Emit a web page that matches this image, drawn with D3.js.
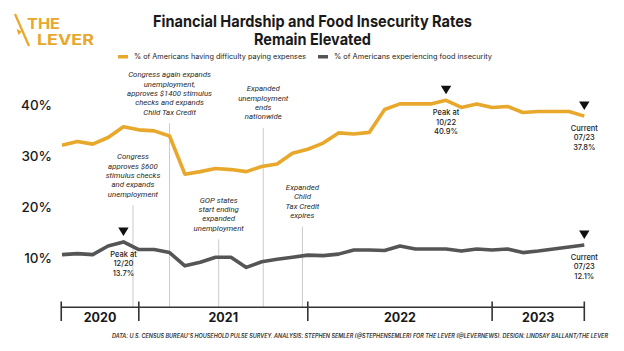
<!DOCTYPE html>
<html><head><meta charset="utf-8">
<script src="https://cdn.jsdelivr.net/npm/d3@7"></script>
<style>html,body{margin:0;padding:0;background:#fff;}svg{display:block;}</style>
</head><body><svg id="c" width="624" height="351"></svg>
<script>
// ---- data ----
const hardshipValues = [32.1, 32.8, 32.3, 33.6, 35.7, 35.1, 34.9, 33.9, 26.4, 26.9, 27.5, 27.3, 26.9, 27.9, 28.4, 30.5, 31.3, 32.5, 34.5, 34.3, 34.6, 39.1, 40.2, 40.2, 40.2, 40.9, 39.5, 40.2, 39.5, 39.7, 38.5, 38.7, 38.7, 38.7, 37.8];
const foodValues = [10.6, 10.8, 10.6, 12.3, 13.1, 11.6, 11.6, 11.0, 8.4, 9.1, 10.1, 10.1, 8.1, 9.2, 9.7, 10.1, 10.5, 10.4, 10.7, 11.5, 11.5, 11.4, 12.3, 11.7, 11.7, 11.7, 11.3, 11.7, 11.5, 11.7, 11.0, 11.3, 11.7, 12.1, 12.5];
const yTicks = [10, 20, 30, 40];
const yTickLabels = ["10%", "20%", "30%", "40%"];
const years = ["2020", "2021", "2022", "2023"];
const yearBoundaries = [-0.05, 5, 16, 28, 34]; // survey index where each year starts
const seriesNames = ["% of Americans having difficulty paying expenses", "% of Americans experiencing food insecurity"];
const events = [
  { at: 4.62, top: 20.3, lines: ["Congress", "approves $600", "stimulus checks", "and expands", "unemployment"] },
  { at: 7, top: 36.4, lines: ["Congress again expands", "unemployment,", "approves $1400 stimulus", "checks and expands", "Child Tax Credit"] },
  { at: 10.2, top: 13.6, lines: ["GOP states", "start ending", "expanded", "unemployment"] },
  { at: 13.1, top: 35.5, lines: ["Expanded", "unemployment", "ends", "nationwide"] },
  { at: 15.65, top: 16.1, lines: ["Expanded", "Child", "Tax Credit", "expires"] }
];
const callouts = [
  { series: 0, index: 25, lines: ["Peak at", "10/22", "40.9%"] },
  { series: 0, index: 34, lines: ["Current", "07/23", "37.8%"] },
  { series: 1, index: 4, lines: ["Peak at", "12/20", "13.7%"] },
  { series: 1, index: 34, lines: ["Current", "07/23", "12.1%"] }
];
const titleLines = ["Financial Hardship and Food Insecurity Rates", "Remain Elevated"];
const footer = "DATA: U.S. CENSUS BUREAU'S HOUSEHOLD PULSE SURVEY. ANALYSIS: STEPHEN SEMLER (@STEPHENSEMLER) FOR THE LEVER (@LEVERNEWS). DESIGN: LINDSAY BALLANT/THE LEVER";

// ---- styles ----
const GOLD = "#E8A82B", GRAY = "#555555", INK = "#1a1a1a";
const seriesColors = [GOLD, GRAY];
const allSeries = [hardshipValues, foodValues];

const svg = d3.select("#c");
svg.append("rect").attr("width", 624).attr("height", 351).attr("fill", "#fff");

const x = d3.scaleLinear().domain([0, hardshipValues.length - 1]).range([62, 584.3]);
const y = d3.scaleLinear().domain([10, 40]).range([257.7, 104.9]);
const axisY = 307.3;

// logo
const logo = svg.append("g");
logo.append("line").attr("x1", 15).attr("y1", 14).attr("x2", 29).attr("y2", 46)
  .attr("stroke", GOLD).attr("stroke-width", 2.2);
logo.append("path").attr("d", "M16.5,29 L22,31.5 L18.5,35 Z").attr("fill", GOLD);
logo.append("text").attr("x", 27).attr("y", 28.5).text("THE")
  .attr("font-family", "Inter, 'DejaVu Sans', sans-serif").attr("font-weight", 700).attr("font-size", 14.5)
  .attr("fill", GOLD).attr("textLength", 33).attr("lengthAdjust", "spacingAndGlyphs");
logo.append("text").attr("x", 37).attr("y", 44.5).text("LEVER")
  .attr("font-family", "Inter, 'DejaVu Sans', sans-serif").attr("font-weight", 700).attr("font-size", 14.5)
  .attr("fill", GOLD).attr("textLength", 57).attr("lengthAdjust", "spacingAndGlyphs");

// title
svg.selectAll("text.title").data(titleLines).join("text").attr("class", "title")
  .attr("x", 312.5).attr("y", (d, i) => 27 + i * 18)
  .attr("text-anchor", "middle")
  .attr("font-family", "Inter, Roboto, sans-serif").attr("font-weight", 700).attr("font-size", 16)
  .attr("fill", INK)
  .attr("textLength", (d, i) => i === 0 ? 319 : 117).attr("lengthAdjust", "spacingAndGlyphs")
  .text(d => d);

// legend
const legendX = [118, 318], legendW = [172, 158];
seriesNames.forEach((n, i) => {
  svg.append("rect").attr("x", legendX[i]).attr("y", 55).attr("width", 10).attr("height", 3.5).attr("fill", seriesColors[i]);
  svg.append("text").attr("x", legendX[i] + 16).attr("y", 59.2).text(n)
    .attr("font-family", "Inter, Roboto, sans-serif").attr("font-size", 7).attr("fill", "#222")
    .attr("textLength", legendW[i]).attr("lengthAdjust", "spacingAndGlyphs");
});

// y tick labels
svg.selectAll("text.ytick").data(yTicks).join("text").attr("class", "ytick")
  .attr("x", 52).attr("y", d => y(d) + 4.8).attr("text-anchor", "end")
  .attr("font-family", "Inter, Roboto, sans-serif").attr("font-weight", 500).attr("font-size", 13.5)
  .attr("fill", INK).text((d, i) => yTickLabels[i]);

// event lines + text
const ev = svg.append("g");
events.forEach(e => {
  const ex = x(e.at), top = y(e.top);
  ev.append("line").attr("x1", ex).attr("x2", ex).attr("y1", top).attr("y2", axisY)
    .attr("stroke", "#bdbdbd").attr("stroke-width", 0.8);
  const n = e.lines.length;
  e.lines.forEach((t, i) => {
    ev.append("text").attr("x", ex).attr("y", top - 11.5 - (n - 1 - i) * 9.3 + 2.8)
      .attr("text-anchor", "middle").attr("font-family", "Roboto, Inter, sans-serif")
      .attr("font-style", "italic").attr("font-size", 7.8).attr("fill", "#2a2a2a").text(t);
  });
});

// lines
const line = d3.line().x((d, i) => x(i)).y(d => y(d)).curve(d3.curveLinear);
allSeries.forEach((s, k) => {
  svg.append("path").datum(s).attr("d", line).attr("fill", "none")
    .attr("stroke", seriesColors[k]).attr("stroke-width", 3.6)
    .attr("stroke-linejoin", "round").attr("stroke-linecap", "butt");
});

// callouts
callouts.forEach(c => {
  const cx = x(c.index), cy = y(allSeries[c.series][c.index]);
  const tip = cy - 6;
  svg.append("path").attr("d", `M${cx - 5.2},${tip - 8.5} L${cx + 5.2},${tip - 8.5} L${cx},${tip} Z`).attr("fill", "#111");
  c.lines.forEach((t, i) => {
    svg.append("text").attr("x", cx).attr("y", cy + 15 + i * 9.3)
      .attr("text-anchor", "middle").attr("font-family", "Inter, Roboto, sans-serif")
      .attr("font-weight", 500).attr("font-size", 7.5).attr("fill", "#222").text(t);
  });
});

// x axis (years)
const ax = svg.append("g");
ax.append("line").attr("x1", x(yearBoundaries[0])).attr("x2", x(yearBoundaries[yearBoundaries.length - 1]))
  .attr("y1", axisY).attr("y2", axisY).attr("stroke", "#333").attr("stroke-width", 1.6);
ax.selectAll("line.tk").data(yearBoundaries).join("line").attr("class", "tk")
  .attr("x1", d => x(d)).attr("x2", d => x(d)).attr("y1", 301.5).attr("y2", 321)
  .attr("stroke", "#333").attr("stroke-width", 1.6);
ax.selectAll("text.yr").data(years).join("text").attr("class", "yr")
  .attr("x", (d, i) => (x(yearBoundaries[i]) + x(yearBoundaries[i + 1])) / 2).attr("y", 321.8)
  .attr("text-anchor", "middle").attr("font-family", "Inter, Roboto, sans-serif")
  .attr("font-weight", 700).attr("font-size", 12.5).attr("fill", INK).text(d => d);

// footer
svg.append("text").attr("x", 112).attr("y", 337.5).text(footer)
  .attr("font-family", "Inter, Roboto, sans-serif").attr("font-style", "italic").attr("font-weight", 600)
  .attr("font-size", 5.6).attr("fill", "#333").attr("textLength", 496).attr("lengthAdjust", "spacingAndGlyphs");
</script></body></html>
